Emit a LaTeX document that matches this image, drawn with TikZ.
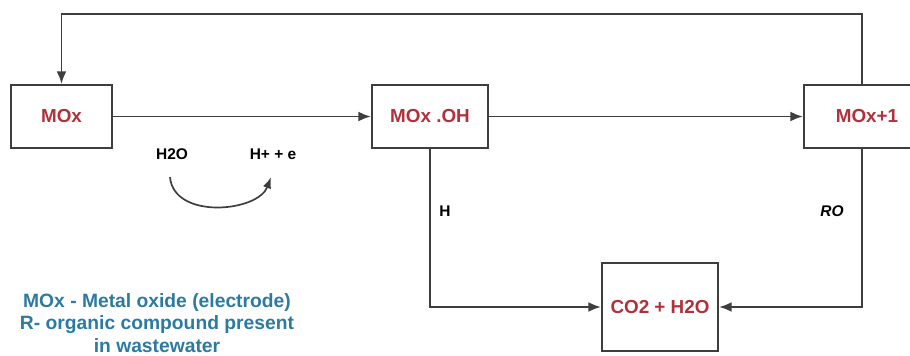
\documentclass[tikz,border=0pt]{standalone}
\usepackage{fontspec}
\setmainfont{Liberation Sans}
\usepackage{tikz}
\usetikzlibrary{calc,positioning,arrows.meta}
\definecolor{boxred}{RGB}{178,48,58}
\definecolor{noteblue}{RGB}{44,122,162}
\definecolor{linegray}{RGB}{62,62,62}
\tikzset{
  species/.style={
    draw = linegray,
    line width = 1.4pt,
    shape = rectangle,
    minimum height = 1.575cm,
    text = boxred,
    font = \fontsize{13.4}{16}\selectfont\bfseries,
    inner sep = 0pt
  },
  link/.style={
    draw = linegray,
    line width = 1.4pt,
    -{Latex[length=9pt,width=7pt]}
  },
  plain/.style={
    draw = linegray,
    line width = 1.4pt
  },
  tag/.style={
    font = \fontsize{11}{13}\selectfont\bfseries,
    inner sep = 1pt
  }
}

\begin{document}
\begin{tikzpicture}[x=0.025cm, y=-0.025cm]
                \path[use as bounding box, clip] (0,0) rectangle (910,356);

                \node[species, minimum width=2.525cm] (mox) at (61.5,116.5) {MOx};
                \node[species, minimum width=2.9cm] (moxoh) at (430,116.5) {MOx .OH};
                \node[species, minimum width=3.15cm] (moxp) at (867,116.5) {MOx+1};
                \node[species, minimum width=2.9cm, minimum height=2.2cm] (co2) at (660,307) {CO2 + H2O};

                \coordinate (rise) at (862,85);
                \coordinate (fall) at (862,148);
                \coordinate (top) at (61.5,14);

                \draw[link] (mox.east) -- (moxoh.west);
                \draw[link] (moxoh.east) -- (moxp.west);
                \draw[link] (rise) |- (top) -- (mox.north);
                \draw[link] (moxoh.south) |- (co2.west);
                \draw[link] (fall) |- (co2.east);

                \node[tag] (h2o) at (172,154) {H2O};
                \node[tag] (hpe) at (273,154) {H+ + e};
                \draw[plain, line width=1.2pt, -{Latex[length=8pt,width=6pt]}]
                    ($(h2o.south)+(-2,16)$) .. controls (174,220) and (258,212) .. ($(hpe.south)+(-2,16)$);

                \node[tag] (hlab) at (445,211) {H};
                \node[tag] (rolab) at (832,211) {\itshape RO};

                \node[align=center, text=noteblue, font=\fontsize{13.7}{16}\selectfont\bfseries] (note) at (157,323)
                    {MOx - Metal oxide (electrode)\\R- organic compound present\\in wastewater};
\end{tikzpicture}
\end{document}
